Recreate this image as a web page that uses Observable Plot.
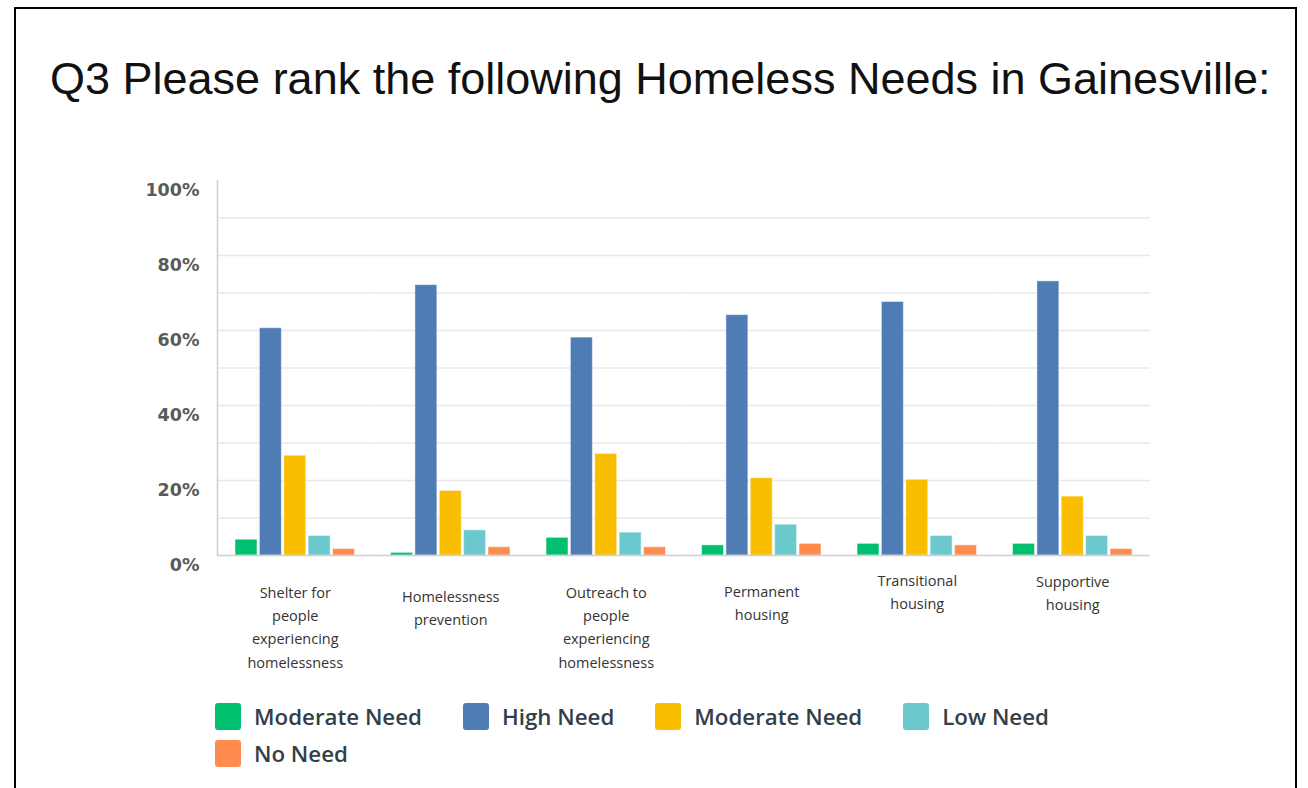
<!DOCTYPE html>
<html>
<head>
<meta charset="utf-8">
<script src="https://cdn.jsdelivr.net/npm/d3@7"></script>
<script src="https://cdn.jsdelivr.net/npm/@observablehq/plot@0.6"></script>
<style>
  body { margin: 0; background: #fff; }
  #page { position: relative; width: 1308px; height: 788px; overflow: hidden; background: #fff; }
  #border { position: absolute; left: 14px; top: 7px; width: 1283px; height: 820px; border: 2px solid #000; box-sizing: border-box; z-index: 2; pointer-events: none; }
  #title { position: absolute; left: 50px; top: 56px; font-family: "Liberation Sans", Arial, sans-serif; font-size: 45px; line-height: 1; color: #111; white-space: nowrap; }
  #chart { position: absolute; left: 0; top: 150px; }
  #legend { position: absolute; left: 215px; top: 703px; width: 940px; display: flex; flex-wrap: wrap; row-gap: 10px;
            font-family: "Open Sans", sans-serif; font-weight: 600; font-size: 22.3px; color: #333e48; }
  .item { display: flex; align-items: center; margin-right: 41px; height: 27px; }
  .sw { width: 26px; height: 27px; border-radius: 3px; margin-right: 13px; flex: none; }
</style>
</head>
<body>
<div id="page">
  <div id="border"></div>
  <div id="title">Q3 Please rank the following Homeless Needs in Gainesville:</div>
  <div id="chart"></div>
  <div id="legend"></div>
</div>
<script>
// ---- data ----
const categories = [
  "Shelter for people experiencing homelessness",
  "Homelessness prevention",
  "Outreach to people experiencing homelessness",
  "Permanent housing",
  "Transitional housing",
  "Supportive housing"
];
const tickLabels = [
  "Shelter for\npeople\nexperiencing\nhomelessness",
  "Homelessness\nprevention",
  "Outreach to\npeople\nexperiencing\nhomelessness",
  "Permanent\nhousing",
  "Transitional\nhousing",
  "Supportive\nhousing"
];
const series = ["Moderate Need", "High Need", "Moderate Need", "Low Need", "No Need"];
const colors = ["#00bf6f", "#507cb6", "#f9be00", "#6bc8cd", "#ff8b4f"];

const moderateNeedA = [4.2, 0.7, 4.7, 2.7, 3.1, 3.1];
const highNeed      = [60.6, 72.1, 58.1, 64.1, 67.6, 73.1];
const moderateNeedB = [26.6, 17.2, 27.1, 20.6, 20.2, 15.7];
const lowNeed       = [5.2, 6.7, 6.1, 8.2, 5.2, 5.2];
const noNeed        = [1.7, 2.2, 2.2, 3.1, 2.7, 1.7];
const seriesValues = [moderateNeedA, highNeed, moderateNeedB, lowNeed, noNeed];

const yTicks = [0, 20, 40, 60, 80, 100];
const yGrid = [10, 20, 30, 40, 50, 60, 70, 80, 90];

// layout: vertical offset of each category label below the baseline
const labelDy = [26, 30, 26, 25, 14, 15];

const data = [];
categories.forEach((c, i) => seriesValues.forEach((vals, s) => data.push({cat: c, s, value: vals[i]})));

const labelMarks = categories.map((c, i) =>
  Plot.text([c], {
    fx: d => d,
    text: () => tickLabels[i],
    frameAnchor: "bottom",
    lineAnchor: "top",
    dy: labelDy[i],
    lineHeight: 1.6,
    fontSize: 14.5,
    fill: "#333",
    fontFamily: "Open Sans"
  })
);

const chart = Plot.plot({
  width: 1308,
  height: 535,
  marginLeft: 217,
  marginRight: 158,
  marginTop: 30,
  marginBottom: 130,
  fx: {domain: categories, padding: 0, round: false, axis: null, label: null},
  x: {domain: d3.range(series.length), paddingInner: 0.1, paddingOuter: 0.74, round: false, axis: null},
  y: {domain: [0, 100], axis: null},
  color: {domain: d3.range(series.length), range: colors},
  style: {fontFamily: "Open Sans", background: "transparent"},
  marks: [
    Plot.gridY(yGrid, {stroke: "#e8e8e8", strokeOpacity: 1, strokeWidth: 1.5}),
    Plot.axisY(yTicks, {
      tickSize: 0, tickPadding: 18, dy: 10, fontSize: 17.5, fontWeight: "bold",
      fontFamily: "DejaVu Sans", fill: "#5a5a5a", tickFormat: d => d + "%", label: null
    }),
    Plot.barY(data, {fx: "cat", x: "s", y: "value", fill: "s", stroke: "white", strokeOpacity: 0.45, strokeWidth: 1}),
    Plot.ruleY([0], {stroke: "#cfcfcf", strokeWidth: 1.5}),
    Plot.frame({anchor: "left", stroke: "#cfcfcf", strokeWidth: 1.5, facetAnchor: "left"}),
    ...labelMarks
  ]
});
document.getElementById("chart").appendChild(chart);

// legend
const legend = document.getElementById("legend");
series.forEach((name, i) => {
  const item = document.createElement("div");
  item.className = "item";
  const sw = document.createElement("div");
  sw.className = "sw";
  sw.style.background = colors[i];
  const t = document.createElement("span");
  t.textContent = name;
  item.appendChild(sw);
  item.appendChild(t);
  legend.appendChild(item);
});
</script>
</body>
</html>
